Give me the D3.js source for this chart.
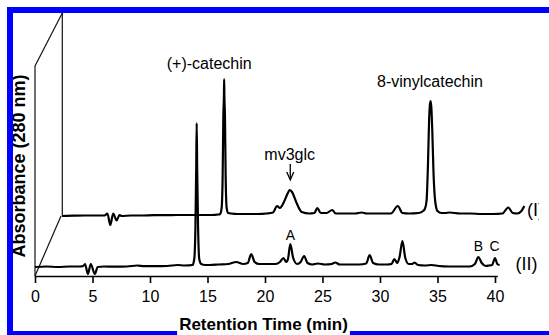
<!DOCTYPE html>
<html>
<head>
<meta charset="utf-8">
<script src="https://cdn.jsdelivr.net/npm/d3@7"></script>
<style>
  html, body { margin: 0; padding: 0; background: #fff; }
  svg { display: block; }
  text { font-family: Arial, "Liberation Sans", Helvetica, sans-serif; }
</style>
</head>
<body>
<svg id="chart" width="549" height="335"></svg>
<script>
// ---------------- DATA ----------------
const xTicks = [0, 5, 10, 15, 20, 25, 30, 35, 40];

// Trace (II) – front chromatogram: retention time (min) and absorbance (arb. units)
const traceII_time = [0, 1, 2, 3, 3.9, 4.2, 4.35, 4.6, 4.85, 5.2, 5.45, 6, 7, 8, 8.9, 9.5, 10.5, 11.5, 12.4, 13,
  13.7, 13.85, 13.95, 14.02, 14.06, 14.1, 14.18, 14.28, 14.45, 14.8, 15.2, 16, 16.8, 17.5, 18.1, 18.5, 18.8, 19.1, 19.5,
  20.2, 20.9, 21.3, 21.6, 21.85, 22.0, 22.2, 22.45, 22.8, 23.1, 23.4, 23.7, 24.1, 24.6, 25.2, 25.8, 26.1, 26.5,
  27.3, 28.2, 28.8, 29.1, 29.4, 29.9, 30.6, 31.0, 31.25, 31.5, 31.7, 31.95, 32.2, 32.5, 32.8, 33.0, 33.3, 33.9,
  34.5, 35.1, 36, 37, 37.8, 38.25, 38.55, 38.85, 39.2, 39.5, 39.75, 40.0, 40.2, 40.4];
const traceII_abs = [0, 0.5, 0, 0.5, 0.5, 1, 3, -7, 3, -7, 0, 0.5, 0.3, 0.5, 1.5, 0.8, 0.8, 1, 2, 1.5,
  2, 8, 40, 100, 144, 100, 40, 8, 3, 2, 2, 2.5, 3, 5, 3, 4, 13, 5, 3,
  3, 3, 5, 9, 5, 8, 23, 9, 3, 5, 11, 4, 2.5, 3.5, 2.5, 3, 4.5, 2.5,
  2.5, 2.5, 3.5, 12, 4, 2.5, 2.5, 3, 8, 4, 10, 26, 9, 3, 3, 4.5, 2, 1.5,
  2, 1, 0.5, 0.5, 0.5, 3, 10, 4, 1, 1.5, 2, 9, 3, 2];

// Trace (I) – back chromatogram
const traceI_time = [0, 1, 2, 3, 3.7, 3.95, 4.2, 4.45, 4.75, 5.0, 5.2, 6, 7, 8, 9, 10, 11, 12, 13, 13.6,
  13.75, 13.88, 13.97, 14.03, 14.08, 14.1, 14.12, 14.17, 14.23, 14.32, 14.45, 14.7, 15.3, 16, 17, 17.8,
  18.35, 18.7, 18.95, 19.3, 19.6, 19.8, 20.0, 20.4, 20.85, 21.5, 21.95, 22.2, 22.5, 23.0, 23.5, 23.8,
  24.5, 25.5, 26.05, 26.5, 27.5, 28.6, 29.2, 29.6, 30.2, 31.0, 31.4, 31.55, 31.7, 31.82, 31.92, 32.0,
  32.06, 32.12, 32.2, 32.3, 32.45, 32.65, 33.0, 33.3, 33.7, 34.6, 35.5, 36.5, 37.5, 38.3, 38.8, 39.2,
  39.6, 39.95, 40.2];
const traceI_abs = [0, 0.3, 0.5, 0.5, 0.5, 2.5, -9, 2.5, -4.5, 1, 0, 0.5, 0.5, 0.8, 0.8, 1, 1, 1, 1, 1.5,
  2, 8, 40, 100, 120, 137, 120, 100, 40, 8, 3, 2.5, 2, 2, 2, 2.5,
  3.5, 10, 8, 14, 22, 26, 24, 13, 4, 2.5, 3, 8, 3, 3, 6, 2.5,
  2.5, 2.5, 3.5, 2.5, 2.5, 2.5, 10, 3, 2.5, 3, 5, 7, 15, 50, 95, 112,
  115, 108, 85, 45, 15, 5, 3, 3, 3.5, 2.5, 2.5, 2, 2, 2.5, 8.5, 3,
  2.5, 5, 10];

// Peak annotations
const peakNames = ["(+)-catechin", "mv3glc", "8-vinylcatechin"];
const letterNames = ["A", "B", "C"];
const letterTimes = [22.2, 38.55, 39.97];      // on trace (II)
const traceNames = ["(I)", "(II)"];
const xTitle = "Retention Time (min)";
const yTitle = "Absorbance (280 nm)";

// ---------------- LAYOUT ----------------
const svg = d3.select("#chart");
const axisY = 276;
const backDx = 27;                 // horizontal shift of the back trace (px)
const x = d3.scaleLinear().domain([0, 40]).range([35, 495]);
const yII = d3.scaleLinear().domain([0, 150]).range([267, 117]);
const yI = d3.scaleLinear().domain([0, 150]).range([216, 66]);
const xI = t => x(t) + backDx;

svg.append("rect").attr("width", 549).attr("height", 335).attr("fill", "#fff");

// pseudo-3D frame
const frame = svg.append("g").attr("stroke", "#111").attr("stroke-width", 1.2).attr("fill", "none");
frame.append("line").attr("x1", x(0)).attr("y1", axisY).attr("x2", x(0)).attr("y2", 66);
frame.append("line").attr("x1", x(0)).attr("y1", 66).attr("x2", xI(0) + 0.3).attr("y2", 13);
frame.append("line").attr("x1", xI(0) + 0.3).attr("y1", 13).attr("x2", xI(0) + 0.3).attr("y2", yI(0));
frame.append("line").attr("x1", xI(0) - 1).attr("y1", yI(0)).attr("x2", x(0)).attr("y2", axisY);

// x axis
const axisScale = d3.scaleLinear().domain([0, 40.2]).range([x(0), x(40.2)]);
const xAxis = svg.append("g").attr("transform", `translate(0,${axisY})`)
  .call(d3.axisBottom(axisScale).tickValues(xTicks).tickSize(7).tickSizeOuter(0).tickFormat(d3.format("d")));
xAxis.select(".domain").attr("stroke", "#000").attr("stroke-width", 1.6);
xAxis.selectAll(".tick line").attr("stroke", "#000").attr("stroke-width", 1.6);
xAxis.selectAll(".tick text").attr("font-size", 16).attr("fill", "#000")
  .attr("font-family", "Arial, 'Liberation Sans', sans-serif").attr("dy", 0).attr("y", 26);

// traces
const dataII = traceII_time.map((t, i) => ({ t, a: traceII_abs[i] }));
const dataI = traceI_time.map((t, i) => ({ t, a: traceI_abs[i] }));
const lineII = d3.line().x(d => x(d.t)).y(d => yII(d.a)).curve(d3.curveMonotoneX);
const lineI = d3.line().x(d => xI(d.t)).y(d => yI(d.a)).curve(d3.curveMonotoneX);
svg.append("path").datum(dataI).attr("d", lineI).attr("fill", "none")
  .attr("stroke", "#000").attr("stroke-width", 2.2).attr("stroke-linejoin", "round");
svg.append("path").datum(dataII).attr("d", lineII).attr("fill", "none")
  .attr("stroke", "#000").attr("stroke-width", 2.2).attr("stroke-linejoin", "round");

// peak labels
const ann = svg.append("g").attr("font-size", 16).attr("fill", "#000").attr("text-anchor", "middle");
ann.append("text").attr("x", x(15.15)).attr("y", 69).text(peakNames[0]);
ann.append("text").attr("x", xI(19.8)).attr("y", 160).text(peakNames[1]);
ann.append("text").attr("x", xI(32.0)).attr("y", 87).text(peakNames[2]);

// arrow for mv3glc
const ax = xI(19.85);
svg.append("line").attr("x1", ax).attr("y1", 164).attr("x2", ax).attr("y2", 178)
  .attr("stroke", "#000").attr("stroke-width", 1.3);
svg.append("path").attr("d", `M${ax - 3.5},172 L${ax},180 L${ax + 3.5},172`)
  .attr("fill", "none").attr("stroke", "#000").attr("stroke-width", 1.3);

// letters
const letterY = [240, 251, 251];
svg.append("g").attr("font-size", 14).attr("text-anchor", "middle")
  .selectAll("text").data(letterNames).join("text")
  .attr("x", (d, i) => x(letterTimes[i])).attr("y", (d, i) => letterY[i]).text(d => d);

// trace names (serif)
svg.append("clipPath").attr("id", "clipR").append("rect").attr("x", 0).attr("y", 0).attr("width", 539).attr("height", 335);
const tn = svg.append("g").attr("font-size", 18);
tn.append("text").attr("x", 527).attr("y", 216).attr("clip-path", "url(#clipR)")
  .attr("font-family", "'Liberation Serif', 'Times New Roman', serif").text(traceNames[0]);
tn.append("text").attr("x", 515.5).attr("y", 269.5)
  .attr("font-family", "'Liberation Serif', 'Times New Roman', serif").text(traceNames[1]);

// y title
svg.append("text").attr("transform", "translate(25,166) rotate(-90)")
  .attr("text-anchor", "middle").attr("font-size", 18).attr("font-weight", "bold").text(yTitle);

// blue border
const blue = "#0000ff";
svg.append("rect").attr("x", 7).attr("y", 7).attr("width", 542).attr("height", 6).attr("fill", blue);
svg.append("rect").attr("x", 7).attr("y", 7).attr("width", 6).attr("height", 328).attr("fill", blue);
svg.append("rect").attr("x", 7).attr("y", 331).attr("width", 542).attr("height", 4).attr("fill", blue);

// x title with white backing
const xt = svg.append("text").attr("x", 263.5).attr("y", 330).attr("text-anchor", "middle")
  .attr("font-size", 17).attr("font-weight", "bold").text(xTitle);
const bb = xt.node().getBBox();
svg.insert("rect", function () { return xt.node(); })
  .attr("x", bb.x - 2).attr("y", bb.y).attr("width", bb.width + 4).attr("height", 335 - bb.y).attr("fill", "#fff");
</script>
</body>
</html>
